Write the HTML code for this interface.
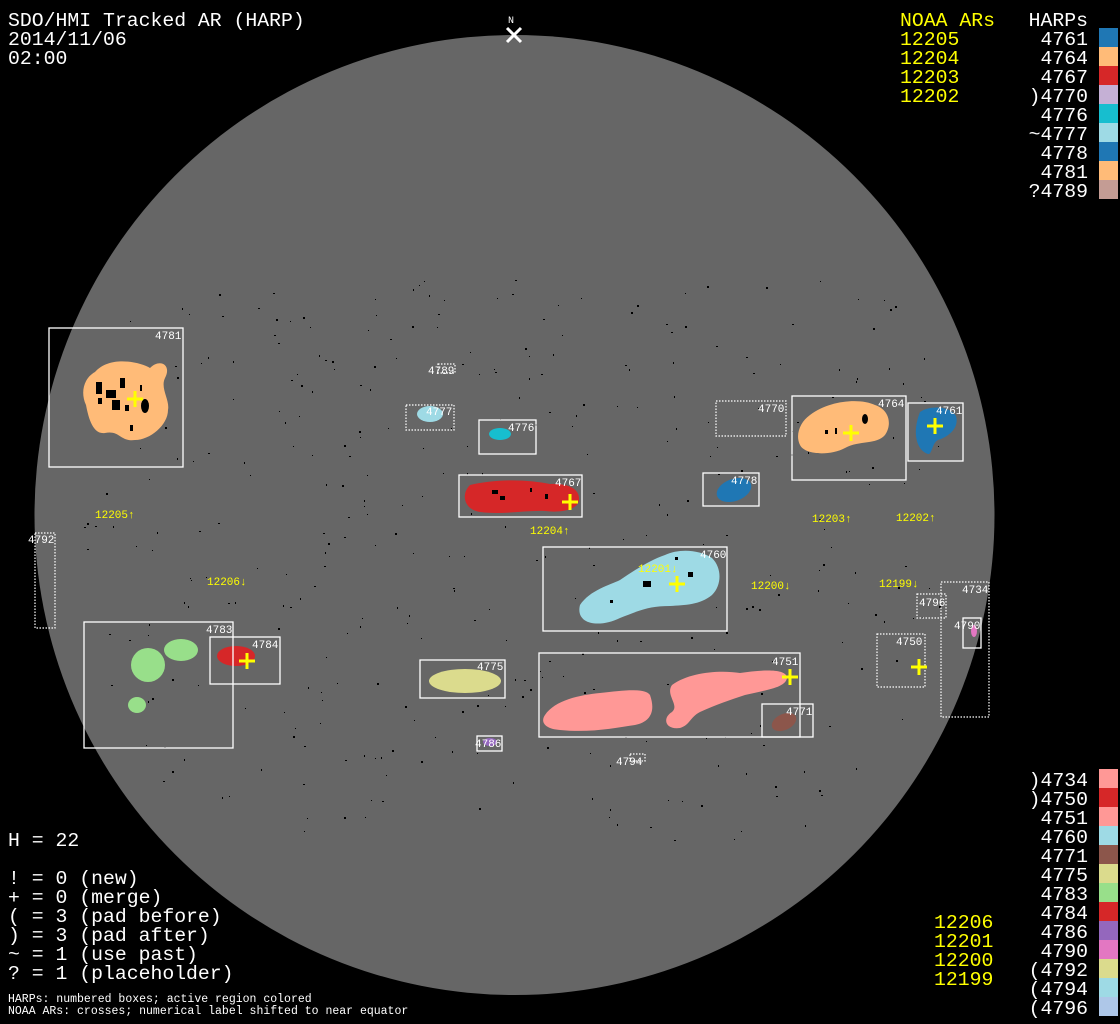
<!DOCTYPE html>
<html><head><meta charset="utf-8"><style>
html,body{margin:0;padding:0;background:#000;width:1120px;height:1024px;overflow:hidden}
svg{display:block}
.t{font-family:"Liberation Mono","DejaVu Sans Mono",monospace;}
</style></head><body>
<svg id="s" width="1120" height="1024" viewBox="0 0 1120 1024" xmlns="http://www.w3.org/2000/svg">
<rect width="1120" height="1024" fill="#000"/>
<circle cx="514.5" cy="515" r="480" fill="#666"/>
<g id="spk" fill="#000"></g>
<text x="508" y="23" class="t" font-size="10" fill="#fff">N</text>
<path d="M507 28 L521 42 M521 28 L507 42" stroke="#fff" stroke-width="3"/>

<path d="M95 372 C110 355,140 362,150 368 C160 358,172 365,165 378 C160 388,170 400,168 410 C168 425,150 440,135 440 C120 442,120 430,105 433 C92 435,88 415,86 405 C80 392,84 378,95 372Z" fill="#ffbb78"/>
<g fill="#000"><rect x="96" y="382" width="6" height="12"/><rect x="106" y="390" width="10" height="8"/><rect x="112" y="400" width="8" height="10"/><rect x="120" y="378" width="5" height="10"/><rect x="98" y="398" width="4" height="6"/><ellipse cx="145" cy="406" rx="4" ry="7"/><rect x="125" y="405" width="4" height="6"/><rect x="130" y="425" width="3" height="6"/><rect x="140" y="385" width="2" height="6"/></g>
<ellipse cx="430" cy="414" rx="13" ry="8" fill="#9edae5"/>
<ellipse cx="500" cy="434" rx="11" ry="6" fill="#17becf"/>
<path d="M470 485 C500 478,530 480,550 484 C570 483,580 490,579 500 C578 510,560 513,545 511 C525 510,505 515,480 512 C465 510,460 495,470 485Z" fill="#d62728"/>
<g fill="#000"><rect x="492" y="490" width="6" height="4"/><rect x="500" y="496" width="5" height="4"/><rect x="545" y="494" width="3" height="5"/><rect x="530" y="488" width="2" height="4"/></g>
<path d="M810 415 C830 400,860 398,875 405 C890 410,892 425,885 435 C876 445,860 440,845 448 C830 456,805 455,800 445 C795 435,800 422,810 415Z" fill="#ffbb78"/>
<g fill="#000"><ellipse cx="865" cy="419" rx="3" ry="5"/><rect x="825" y="430" width="3" height="4"/><rect x="835" y="428" width="2" height="6"/></g>
<path d="M920 412 C930 405,950 406,956 416 C960 430,945 438,938 440 C932 443,932 455,928 454 C916 450,912 432,920 412Z" fill="#1f77b4"/>
<ellipse cx="734" cy="490" rx="18" ry="11" fill="#1f77b4" transform="rotate(-20 734 490)"/>
<path d="M580 605 C590 590,610 585,620 580 C635 570,650 560,665 555 C680 548,700 550,712 558 C722 568,722 585,712 595 C700 605,685 605,670 606 C650 606,640 610,620 618 C600 628,575 625,580 605Z" fill="#9edae5"/>
<g fill="#000"><rect x="643" y="581" width="8" height="6"/><rect x="688" y="572" width="5" height="5"/><rect x="675" y="557" width="3" height="3"/><rect x="610" y="600" width="3" height="3"/></g>
<ellipse cx="148" cy="665" rx="17" ry="17" fill="#98df8a"/>
<ellipse cx="181" cy="650" rx="17" ry="11" fill="#98df8a"/>
<ellipse cx="137" cy="705" rx="9" ry="8" fill="#98df8a"/>
<ellipse cx="236" cy="656" rx="19" ry="10" fill="#d62728"/>
<ellipse cx="465" cy="681" rx="36" ry="12" fill="#dbdb8d"/>
<path d="M545 715 C555 700,580 695,600 693 C625 690,645 688,650 695 C656 712,650 722,635 725 C615 728,590 733,560 730 C545 729,540 722,545 715Z" fill="#ff9896"/>
<path d="M672 685 C690 672,720 670,740 673 C760 670,785 668,787 677 C787 688,765 690,745 695 C730 700,715 705,700 712 C690 717,690 725,680 728 C665 730,662 718,672 712 C680 705,665 695,672 685Z" fill="#ff9896"/>
<ellipse cx="784" cy="722" rx="13" ry="8" fill="#8c564b" transform="rotate(-25 784 722)"/>
<ellipse cx="974" cy="631" rx="3" ry="6" fill="#e377c2"/>
<ellipse cx="490" cy="742" rx="7" ry="4" fill="#9467bd"/>

<g fill="none" stroke="#fff" stroke-width="1.3">
<rect x="49" y="328" width="134" height="139"/>
<rect x="479" y="420" width="57" height="34"/>
<rect x="459" y="475" width="123" height="42"/>
<rect x="792" y="396" width="114" height="84"/>
<rect x="908" y="403" width="55" height="58"/>
<rect x="703" y="473" width="56" height="33"/>
<rect x="543" y="547" width="184" height="84"/>
<rect x="84" y="622" width="149" height="126"/>
<rect x="210" y="637" width="70" height="47"/>
<rect x="420" y="660" width="85" height="38"/>
<rect x="539" y="653" width="261" height="84"/>
<rect x="762" y="704" width="51" height="33"/>
<rect x="477" y="736" width="25" height="15"/>
<rect x="963" y="618" width="18" height="30"/>
</g>
<g fill="none" stroke="#fff" stroke-width="1.2" stroke-dasharray="1.5 1.5">
<rect x="438" y="364" width="17" height="9"/>
<rect x="406" y="405" width="48" height="25"/>
<rect x="716" y="401" width="70" height="35"/>
<rect x="35" y="533" width="20" height="95"/>
<rect x="630" y="754" width="15" height="7"/>
<rect x="877" y="634" width="48" height="53"/>
<rect x="917" y="594" width="29" height="24"/>
<rect x="941" y="582" width="48" height="135"/>
</g>
<g class="t" font-size="11" fill="#fff">
<text x="155" y="339">4781</text><text x="428" y="374">4789</text><text x="426" y="415">4777</text>
<text x="508" y="431">4776</text><text x="555" y="486">4767</text><text x="758" y="412">4770</text>
<text x="878" y="407">4764</text><text x="936" y="414">4761</text><text x="731" y="484">4778</text>
<text x="28" y="543">4792</text><text x="700" y="558">4760</text><text x="206" y="633">4783</text>
<text x="252" y="648">4784</text><text x="477" y="670">4775</text><text x="772" y="665">4751</text>
<text x="786" y="715">4771</text><text x="475" y="747">4786</text><text x="616" y="765">4794</text>
<text x="896" y="645">4750</text><text x="919" y="606">4796</text><text x="962" y="593">4734</text>
<text x="954" y="629">4790</text>
</g>
<g class="t" font-size="11" fill="#ff0">
<text x="95" y="518">12205↑</text><text x="530" y="534">12204↑</text><text x="812" y="522">12203↑</text>
<text x="896" y="521">12202↑</text><text x="207" y="585">12206↓</text><text x="638" y="572">12201↓</text>
<text x="751" y="589">12200↓</text><text x="879" y="587">12199↓</text>
</g>
<g stroke="#ff0" stroke-width="3">
<path d="M127 399h16M135 391v16"/><path d="M562 502h16M570 494v16"/><path d="M843 433h16M851 425v16"/>
<path d="M927 426h16M935 418v16"/><path d="M669 584h16M677 576v16"/><path d="M239 661h16M247 653v16"/>
<path d="M782 677h16M790 669v16"/><path d="M911 667h16M919 659v16"/>
</g>

<g class="t" font-size="19.8" fill="#fff">
<text x="8" y="26">SDO/HMI Tracked AR (HARP)</text>
<text x="8" y="45">2014/11/06</text>
<text x="8" y="64">02:00</text>
<text x="8" y="846">H = 22</text>
<text x="8" y="884">! = 0 (new)</text>
<text x="8" y="903">+ = 0 (merge)</text>
<text x="8" y="922">( = 3 (pad before)</text>
<text x="8" y="941">) = 3 (pad after)</text>
<text x="8" y="960">~ = 1 (use past)</text>
<text x="8" y="979">? = 1 (placeholder)</text>
</g>
<g class="t" font-size="11.5" fill="#fff">
<text x="8" y="1002">HARPs: numbered boxes; active region colored</text>
<text x="8" y="1014">NOAA ARs: crosses; numerical label shifted to near equator</text>
</g>
<g class="t" font-size="19.8" fill="#ff0">
<text x="900" y="26">NOAA ARs</text>
<text x="900" y="45">12205</text><text x="900" y="64">12204</text><text x="900" y="83">12203</text><text x="900" y="102">12202</text>
<text x="934" y="928">12206</text><text x="934" y="947">12201</text><text x="934" y="966">12200</text><text x="934" y="985">12199</text>
</g>
<g class="t" font-size="19.8" fill="#fff" text-anchor="end">
<text x="1088" y="26">HARPs</text>
<text x="1088" y="45">4761</text><text x="1088" y="64">4764</text><text x="1088" y="83">4767</text>
<text x="1088" y="102">)4770</text><text x="1088" y="121">4776</text><text x="1088" y="140">~4777</text>
<text x="1088" y="159">4778</text><text x="1088" y="178">4781</text><text x="1088" y="197">?4789</text>
<text x="1088" y="786">)4734</text><text x="1088" y="805">)4750</text><text x="1088" y="824">4751</text>
<text x="1088" y="843">4760</text><text x="1088" y="862">4771</text><text x="1088" y="881">4775</text>
<text x="1088" y="900">4783</text><text x="1088" y="919">4784</text><text x="1088" y="938">4786</text>
<text x="1088" y="957">4790</text><text x="1088" y="976">(4792</text><text x="1088" y="995">(4794</text>
<text x="1088" y="1014">(4796</text>
</g>
<g id="sw"></g>
</svg>
<script>
var sw=document.getElementById('sw'),ns='http://www.w3.org/2000/svg';
function add(y,cols){cols.forEach(function(c,i){var r=document.createElementNS(ns,'rect');r.setAttribute('x',1099);r.setAttribute('y',y+i*19);r.setAttribute('width',19);r.setAttribute('height',19);r.setAttribute('fill',c);sw.appendChild(r);});}
add(28,['#1f77b4','#ffbb78','#d62728','#c5b0d5','#17becf','#9edae5','#1f77b4','#ffbb78','#c49c94']);
add(769,['#ff9896','#d62728','#ff9896','#9edae5','#8c564b','#dbdb8d','#98df8a','#d62728','#9467bd','#e377c2','#dbdb8d','#9edae5','#aec7e8']);
var g=document.getElementById('spk'),s=12345;function rnd(){s=(s*16807)%2147483647;return s/2147483647;}
for(var i=0;i<400;i++){var x=80+rnd()*870,y=280+rnd()*560;var dx=x-514,dy=y-515;if(dx*dx+dy*dy>440*440)continue;
var e=document.createElementNS(ns,'rect');e.setAttribute('x',x.toFixed(0));e.setAttribute('y',y.toFixed(0));e.setAttribute('width',1+Math.floor(rnd()*1.6));e.setAttribute('height',1+Math.floor(rnd()*1.6));g.appendChild(e);}
</script>
</body></html>
